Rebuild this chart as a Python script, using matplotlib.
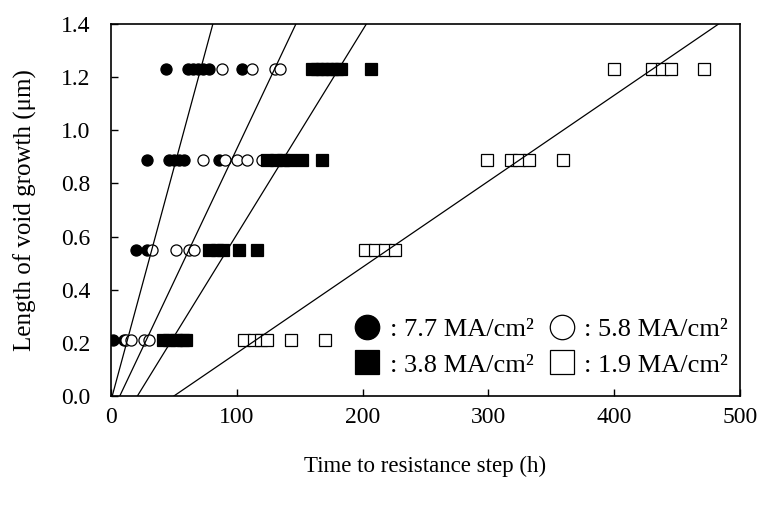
import numpy as np
from matplotlib import pyplot as plt
from matplotlib.lines import Line2D

plt.rcParams['font.family'] = ['Liberation Serif', 'DejaVu Serif']

# void length levels (um)
levels = [0.21, 0.55, 0.89, 1.23]

# time to resistance step (h) per level, one list per current density
t77 = [[2, 10], [20, 29], [29, 46, 50, 54, 58, 86], [44, 61, 65, 69, 73, 78, 104]]
t58 = [[12, 16, 26, 30], [33, 52, 62, 66], [73, 91, 100, 108, 120], [88, 112, 130, 134]]
t38 = [[41, 46, 52, 57, 60], [78, 84, 89, 102, 116], [124, 131, 137, 142, 152, 168],
       [160, 164, 168, 172, 176, 180, 183, 207]]
t19 = [[106, 114, 119, 124, 143, 170], [202, 210, 218, 226], [299, 318, 324, 332, 359],
       [400, 430, 438, 445, 471]]

# fitted lines: time at length 0 and at length 1.4
fit_t0 = [1, 7, 21, 50]
fit_t1 = [81, 147, 203, 483]

labels = [': 7.7 MA/cm²', ': 5.8 MA/cm²', ': 3.8 MA/cm²', ': 1.9 MA/cm²']


def flat(tt):
	x = np.concatenate([np.array(t, float) for t in tt])
	y = np.concatenate([np.full(len(t), l) for t, l in zip(tt, levels)])
	return x, y


fig = plt.figure(figsize=(7.69, 5.05), dpi=100)
ax = fig.add_axes([0.1443, 0.2158, 0.818, 0.7367])

styles = [('o', 'black'), ('o', 'white'), ('s', 'black'), ('s', 'white')]
handles = []
for tt, (m, fc), lab in zip([t77, t58, t38, t19], styles, labels):
	x, y = flat(tt)
	ax.plot(x, y, ls='none', marker=m, ms=8, mfc=fc, mec='black', mew=0.9, zorder=3)
	handles.append(Line2D([], [], ls='none', marker=m, ms=8, mfc=fc, mec='black', mew=0.9, label=lab))

for a, b in zip(fit_t0, fit_t1):
	ax.plot([a, b], [0, 1.4], color='black', lw=0.9, zorder=4)

ax.set_xlim(0, 500)
ax.set_ylim(0, 1.4)
ax.set_xticks(np.arange(0, 501, 100))
ax.set_yticks(np.arange(0, 1.41, 0.2))
ax.yaxis.set_major_formatter(plt.FormatStrFormatter('%.1f'))
ax.tick_params(direction='in', length=5, width=1, labelsize=17)
ax.tick_params(axis='x', pad=8)
ax.tick_params(axis='y', pad=15)
for s in ax.spines.values():
	s.set_linewidth(1.2)

ax.set_xlabel('Time to resistance step (h)', fontsize=16.5, labelpad=20)
ax.set_ylabel('Length of void growth (μm)', fontsize=18, labelpad=17)

order = [handles[0], handles[2], handles[1], handles[3]]
ax.legend(handles=order, ncol=2, loc='lower right', bbox_to_anchor=(0.989, 0.038),
          frameon=False, fontsize=19, markerscale=2.2, handletextpad=0.2,
          columnspacing=0.4, labelspacing=0.45, borderaxespad=0.0,
          handlelength=1.3, borderpad=0.2)

fig.savefig('out.png', dpi=100)
